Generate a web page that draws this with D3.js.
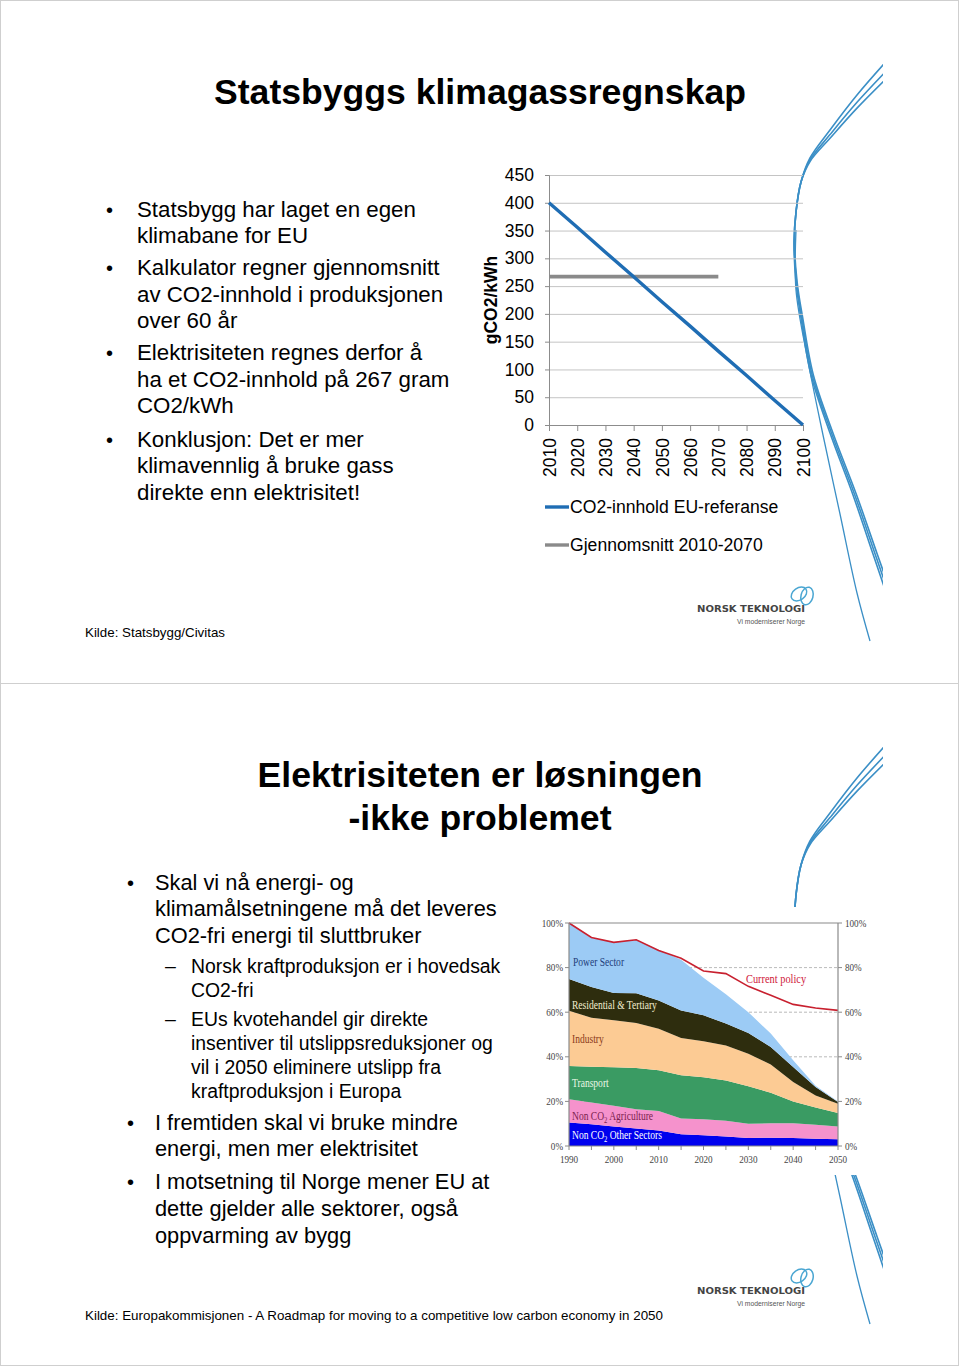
<!DOCTYPE html>
<html><head><meta charset="utf-8">
<script src="https://cdn.jsdelivr.net/npm/d3@7"></script>
<style>
html,body{margin:0;padding:0;background:#fff;}
svg{display:block;}
text{font-family:"Liberation Sans",Arial,Helvetica,sans-serif;}
</style></head><body>
<svg id="page" width="960" height="1367"></svg>
<script>
// ================= DATA: chart 1 (gCO2/kWh) =================
const co2Years   = [2010,2020,2030,2040,2050,2060,2070,2080,2090,2100];
const co2EuRef   = [400,356,311,267,222,178,133,89,44,0];
const avgYears   = [2010,2020,2030,2040,2050,2060,2070];
const avgValues  = [267,267,267,267,267,267,267];
const co2Ticks   = [0,50,100,150,200,250,300,350,400,450];
const chart1Names = ["CO2-innhold EU-referanse","Gjennomsnitt 2010-2070"];
const chart1Title = "gCO2/kWh";

// ================= DATA: chart 2 (EU emissions, % of 1990) =================
const euYears        = [1990,1995,2000,2005,2010,2015,2020,2025,2030,2035,2040,2045,2050];
const otherSectors   = [10.5,9.8,8.7,7.8,7.0,5.3,4.8,4.3,3.6,3.7,3.6,3.3,3.0];
const agriculture    = [10.5,9.7,9.3,8.7,8.7,7.0,7.2,7.0,6.4,6.5,6.6,6.2,5.8];
const transport      = [14.9,16.0,17.3,18.5,18.3,19.4,18.8,18.1,16.8,13.7,9.8,7.8,6.0];
const industry       = [24.8,22.0,21.1,20.2,18.6,16.7,16.2,15.7,14.6,12.7,8.7,5.4,4.2];
const residential    = [14.2,13.8,12.2,13.3,12.7,12.4,11.6,9.8,9.3,7.8,6.7,3.8,0.7];
const powerSector    = [25.1,22.0,22.9,24.0,22.7,22.7,16.9,13.1,9.3,6.0,3.0,0.5,0.3];
const currentPolicy  = [100,93.5,91.3,92.5,87.7,84.2,78.5,77.3,71.6,67.6,63.5,61.9,60.8];
const pctTicks       = [0,20,40,60,80,100];
const yearLabelTicks = [1990,2000,2010,2020,2030,2040,2050];
const sectorKeys   = ["other","agri","transport","industry","residential","power"];
const sectorColors = ["#0000ee","#f592cc","#3a9b63","#fccb94","#2e2d0e","#9ccbf5"];

const svg = d3.select("#page");

// ---------- page frames ----------
svg.append("rect").attr("x",0.5).attr("y",0.5).attr("width",958).attr("height",1365)
  .attr("fill","#fff").attr("stroke","#cfcfcf");
svg.append("line").attr("x1",0).attr("x2",959).attr("y1",683.5).attr("y2",683.5).attr("stroke","#cfcfcf");

// ---------- decorative swooshes ----------
const defs = svg.append("defs");
defs.append("clipPath").attr("id","sw0").append("rect").attr("x",0).attr("y",2).attr("width",883).attr("height",679);
const swLine = d3.line().curve(d3.curveCatmullRom.alpha(0.5));
const thickA = [[892,55],[857,95],[830,130],[810,158],[801,182],[796,212],[794,242],[796,282],[801,318],[811,375],[830,433],[853,495],[873,554],[890,604]];
function variant(pts, dyTop, dxBot){
  return pts.map((p,i)=>{const t=i/(pts.length-1); return [p[0]+dxBot*Math.max(0,t-0.4)*1.6, p[1]+dyTop*Math.max(0,1-t*3.5)];});
}
const thinLine = [[796,230],[796,290],[807,356],[823,435],[840,514],[857,593],[870,641]];
function drawSwoosh(dy){
  const outer = svg.append("g").attr("transform","translate(0,"+dy+")");
  const g = outer.append("g").attr("clip-path","url(#sw0)").attr("fill","none").attr("stroke","#3b8fc6");
  [[0,0],[10,2.5],[18,5]].forEach(([a,b])=>{
    g.append("path").attr("d",swLine(variant(thickA,a,b))).attr("stroke-width",1.6);
  });
  g.append("path").attr("d",swLine(thinLine)).attr("stroke-width",1.3);
}
drawSwoosh(0);
drawSwoosh(683);

// ---------- logos ----------
function drawLogo(dy){
  const g = svg.append("g").attr("transform","translate(0,"+dy+")");
  g.append("text").attr("x",697).attr("y",612).attr("font-size",8.5).attr("font-weight","bold")
    .attr("fill","#444").attr("textLength",108).attr("lengthAdjust","spacingAndGlyphs")
    .style("font-family","'DejaVu Sans',sans-serif").text("NORSK TEKNOLOGI");
  g.append("text").attr("x",737).attr("y",623.5).attr("font-size",7).attr("fill","#555")
    .attr("textLength",68).attr("lengthAdjust","spacingAndGlyphs").text("Vi moderniserer Norge");
  const lg = g.append("g").attr("fill","none").attr("stroke","#4aa6d2").attr("stroke-width",1.5);
  lg.append("ellipse").attr("cx",799).attr("cy",594).attr("rx",8.5).attr("ry",6).attr("transform","rotate(-35,799,594)");
  lg.append("ellipse").attr("cx",807).attr("cy",596).attr("rx",6).attr("ry",9).attr("transform","rotate(15,807,596)");
}
drawLogo(0);
drawLogo(682);

// ---------- text helpers ----------
function textLines(lines, opts){
  lines.forEach(l=>{
    svg.append("text").attr("x",l[0]).attr("y",l[1]).attr("font-size",opts.size)
      .attr("font-weight",opts.weight||"normal").attr("fill","#000")
      .attr("text-anchor",opts.anchor||"start").text(l[2]);
  });
}

// ================= SLIDE 1 =================
textLines([[480,104,"Statsbyggs klimagassregnskap"]],{size:35.6,weight:"bold",anchor:"middle"});
textLines([
  [106,216.7,"•"],[106,275,"•"],[106,360,"•"],[106,447,"•"]
],{size:20});
textLines([
  [137,216.7,"Statsbygg har laget en egen"],
  [137,243,"klimabane for EU"],
  [137,275,"Kalkulator regner gjennomsnitt"],
  [137,301.5,"av CO2-innhold i produksjonen"],
  [137,328,"over 60 år"],
  [137,360,"Elektrisiteten regnes derfor å"],
  [137,386.5,"ha et CO2-innhold på 267 gram"],
  [137,413,"CO2/kWh"],
  [137,447,"Konklusjon: Det er mer"],
  [137,473,"klimavennlig å bruke gass"],
  [137,499.5,"direkte enn elektrisitet!"]
],{size:22.3});
svg.append("text").attr("x",85).attr("y",637).attr("font-size",13.5).attr("fill","#000")
  .attr("textLength",140).attr("lengthAdjust","spacingAndGlyphs").text("Kilde: Statsbygg/Civitas");

// ---------- chart 1 ----------
const x1 = d3.scaleLinear().domain([2010,2100]).range([549,803]);
const y1 = d3.scaleLinear().domain([0,450]).range([425,175]);
const c1 = svg.append("g");
c1.append("g").attr("transform","translate(549,0)")
  .call(d3.axisLeft(y1).tickValues(co2Ticks).tickSize(-(x1(2100)-x1(2010))).tickFormat(""))
  .call(g=>{g.select(".domain").remove(); g.selectAll("line").attr("stroke","#c4c4c4").attr("stroke-width",1);});
c1.append("g").attr("transform","translate(549,0)")
  .call(d3.axisLeft(y1).tickValues(co2Ticks).tickSize(4).tickPadding(11))
  .call(g=>{g.select(".domain").attr("stroke","#8c8c8c");
    g.selectAll("line").attr("stroke","#8c8c8c");
    g.selectAll("text").attr("font-size",17.5).attr("fill","#000").style("font-family","'Liberation Sans',Arial,sans-serif");});
c1.append("g").attr("transform","translate(0,425)")
  .call(d3.axisBottom(x1).tickValues(co2Years).tickSize(6).tickFormat(d3.format("d")))
  .call(g=>{g.select(".domain").attr("stroke","#8c8c8c");
    g.selectAll("line").attr("stroke","#8c8c8c");
    g.selectAll("text").attr("font-size",17.5).attr("fill","#000")
      .style("font-family","'Liberation Sans',Arial,sans-serif")
      .attr("text-anchor","end").attr("transform","rotate(-90)")
      .attr("x",-13).attr("y",0).attr("dy","0.35em");});
svg.append("text").attr("transform","translate(497,300) rotate(-90)").attr("text-anchor","middle")
  .attr("font-size",17.5).attr("font-weight","bold").text(chart1Title);
const l1 = d3.line().x(d=>x1(d[0])).y(d=>y1(d[1]));
c1.append("path").attr("d",l1(avgYears.map((y,i)=>[y,avgValues[i]])))
  .attr("fill","none").attr("stroke","#8a8a8a").attr("stroke-width",3.6);
c1.append("path").attr("d",l1(co2Years.map((y,i)=>[y,co2EuRef[i]])))
  .attr("fill","none").attr("stroke","#1f6db4").attr("stroke-width",3.4);
const leg = [[507,"#1f6db4"],[545,"#8a8a8a"]];
leg.forEach((d,i)=>{
  c1.append("line").attr("x1",545).attr("x2",569).attr("y1",d[0]).attr("y2",d[0]).attr("stroke",d[1]).attr("stroke-width",3.4);
  c1.append("text").attr("x",570).attr("y",d[0]+6.3).attr("font-size",17.6).text(chart1Names[i]);
});

// ================= SLIDE 2 =================
textLines([[480,787,"Elektrisiteten er løsningen"],[480,830,"-ikke problemet"]],{size:35.6,weight:"bold",anchor:"middle"});
textLines([[127,890,"•"],[127,1130,"•"],[127,1189,"•"]],{size:20});
textLines([[165,973,"–"],[165,1026,"–"]],{size:19.5});
textLines([
  [155,890,"Skal vi nå energi- og"],
  [155,916,"klimamålsetningene må det leveres"],
  [155,943,"CO2-fri energi til sluttbruker"],
  [155,1130,"I fremtiden skal vi bruke mindre"],
  [155,1156,"energi, men mer elektrisitet"],
  [155,1189,"I motsetning til Norge mener EU at"],
  [155,1216,"dette gjelder alle sektorer, også"],
  [155,1243,"oppvarming av bygg"]
],{size:21.8});
textLines([
  [191,973,"Norsk kraftproduksjon er i hovedsak"],
  [191,997,"CO2-fri"],
  [191,1026,"EUs kvotehandel gir direkte"],
  [191,1050,"insentiver til utslippsreduksjoner og"],
  [191,1074,"vil i 2050 eliminere utslipp fra"],
  [191,1098,"kraftproduksjon i Europa"]
],{size:19.4});
svg.append("text").attr("x",85).attr("y",1320).attr("font-size",13.5).attr("fill","#000")
  .attr("textLength",578).attr("lengthAdjust","spacingAndGlyphs")
  .text("Kilde: Europakommisjonen - A Roadmap for moving to a competitive low carbon economy in 2050");

// ---------- chart 2 ----------
svg.append("rect").attr("x",533).attr("y",907).attr("width",342).attr("height",268).attr("fill","#fff");
const x2 = d3.scaleLinear().domain([1990,2050]).range([569,838]);
const y2 = d3.scaleLinear().domain([0,100]).range([1146,923]);
const c2 = svg.append("g");
const serif = "'Liberation Serif','Times New Roman',serif";
c2.selectAll("line.grid").data(pctTicks.filter(d=>d>0&&d<100)).join("line")
  .attr("x1",x2(1990)).attr("x2",x2(2050)).attr("y1",d=>y2(d)).attr("y2",d=>y2(d))
  .attr("stroke","#a8a8a8").attr("stroke-dasharray","3,2").attr("stroke-width",0.8);
const table = euYears.map((yr,i)=>({year:yr, other:otherSectors[i], agri:agriculture[i], transport:transport[i],
  industry:industry[i], residential:residential[i], power:powerSector[i]}));
const stacked = d3.stack().keys(sectorKeys)(table);
const area = d3.area().x(d=>x2(d.data.year)).y0(d=>y2(d[0])).y1(d=>y2(d[1]));
c2.selectAll("path.band").data(stacked).join("path").attr("class","band")
  .attr("d",area).attr("fill",(d,i)=>sectorColors[i]);
c2.append("path").attr("d",d3.line().x(d=>x2(d[0])).y(d=>y2(d[1]))(euYears.map((y,i)=>[y,currentPolicy[i]])))
  .attr("fill","none").attr("stroke","#c8202f").attr("stroke-width",1.6);
[[1990,100,2050,100],[1990,0,2050,0],[1990,0,1990,100],[2050,0,2050,100]].forEach(f=>{
  c2.append("line").attr("x1",x2(f[0])).attr("x2",x2(f[2])).attr("y1",y2(f[1])).attr("y2",y2(f[3]))
    .attr("stroke","#8a8a8a").attr("stroke-width",1.2);
});
c2.selectAll("line.tl").data(pctTicks).join("line").attr("class","tl").attr("x1",x2(1990)-4).attr("x2",x2(1990))
  .attr("y1",d=>y2(d)).attr("y2",d=>y2(d)).attr("stroke","#8a8a8a");
c2.selectAll("line.tr").data(pctTicks).join("line").attr("class","tr").attr("x1",x2(2050)).attr("x2",x2(2050)+4)
  .attr("y1",d=>y2(d)).attr("y2",d=>y2(d)).attr("stroke","#8a8a8a");
c2.selectAll("line.tb").data(euYears).join("line").attr("class","tb").attr("x1",d=>x2(d)).attr("x2",d=>x2(d))
  .attr("y1",y2(0)).attr("y2",y2(0)+4).attr("stroke","#8a8a8a");
function cText(x,y,size,fill,anchor){
  return c2.append("text").attr("transform","translate("+x+","+y+") scale(0.83,1)")
    .attr("font-size",size).attr("fill",fill).attr("text-anchor",anchor||"start").style("font-family",serif);
}
pctTicks.forEach(d=>{
  cText(x2(1990)-6,y2(d)+3.5,11,"#444","end").text(d+"%");
  cText(x2(2050)+7,y2(d)+3.5,11,"#444","start").text(d+"%");
});
yearLabelTicks.forEach(d=>{ cText(x2(d),y2(0)+17,11,"#444","middle").text(d); });
cText(573,966,11.5,"#1f3d7a").text("Power Sector");
cText(572,1009,11.5,"#f3eed0").text("Residential & Tertiary");
cText(572,1043,11.5,"#8b3a1a").text("Industry");
cText(572,1087,11.5,"#eaf7e6").text("Transport");
const t5 = cText(572,1120,11.5,"#7b1f4f");
t5.append("tspan").text("Non CO");
t5.append("tspan").attr("font-size",8).attr("dy",2.5).text("2");
t5.append("tspan").attr("dy",-2.5).text(" Agriculture");
const t6 = cText(572,1139,11.5,"#ffffff");
t6.append("tspan").text("Non CO");
t6.append("tspan").attr("font-size",8).attr("dy",2.5).text("2");
t6.append("tspan").attr("dy",-2.5).text(" Other Sectors");
cText(746,983,12.5,"#d0203c").text("Current policy");
</script>
</body></html>
